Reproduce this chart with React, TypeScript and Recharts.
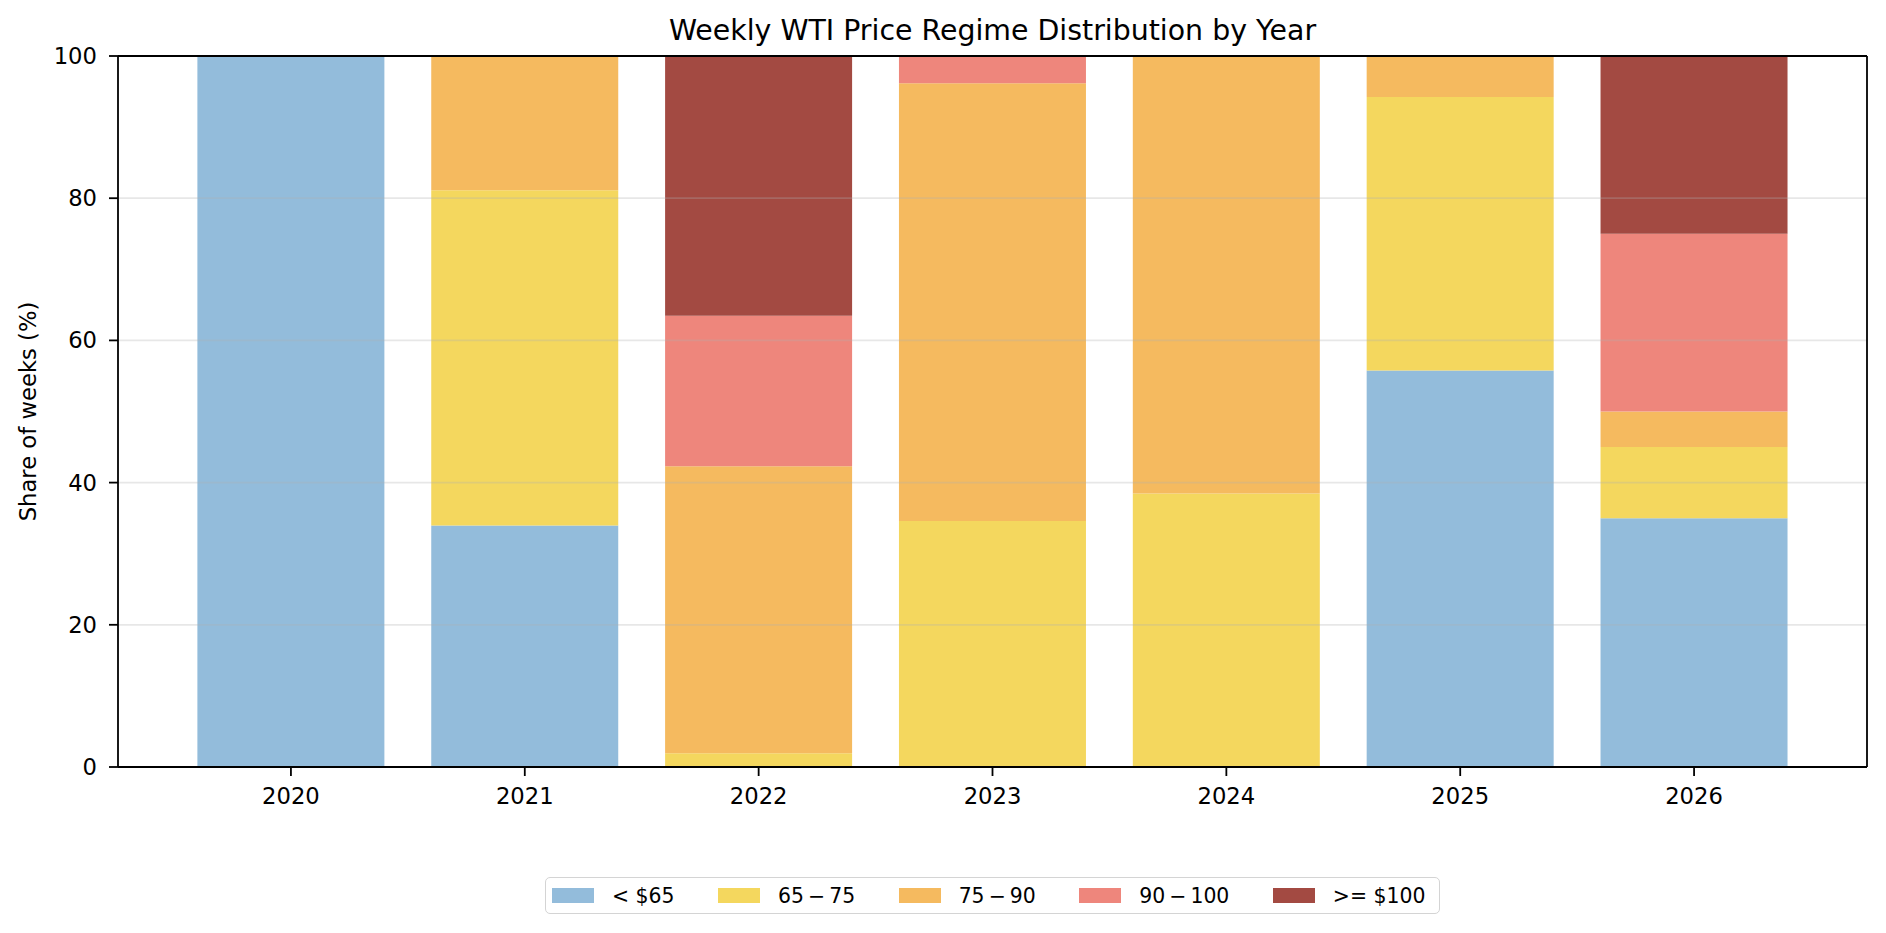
import React from 'react';
import { BarChart, Bar, XAxis, YAxis, ReferenceLine } from 'recharts';

const years = ['2020', '2021', '2022', '2023', '2024', '2025', '2026'];
const below65 = [100, 33.962, 0, 0, 0, 55.769, 35];
const r65to75 = [0, 47.17, 1.923, 34.615, 38.462, 38.462, 10];
const r75to90 = [0, 18.868, 40.385, 61.538, 61.538, 5.769, 5];
const r90to100 = [0, 0, 21.154, 3.846, 0, 0, 25];
const above100 = [0, 0, 36.538, 0, 0, 0, 25];
const yTicks = [0, 20, 40, 60, 80, 100];

const seriesKeys = ['below65', 'r65to75', 'r75to90', 'r90to100', 'above100'];
const seriesLabels = ['< $65', '65\u2009\u2212\u200975', '75\u2009\u2212\u200990', '90\u2009\u2212\u2009100', '>= $100'];
const seriesValues = [below65, r65to75, r75to90, r90to100, above100];
const seriesColors = ['#93BCDB', '#F4D75E', '#F5BA5F', '#EE867C', '#A34A42'];

const data = years.map((year, i) => {
  const row: Record<string, string | number> = { year };
  seriesKeys.forEach((k, s) => {
    row[k] = seriesValues[s][i];
  });
  return row;
});

const FONT = 'DejaVu Sans, Verdana, sans-serif';
const axisStroke = { stroke: '#000', strokeWidth: 1.8 };

export default function App() {
  return (
    <div style={{ position: 'absolute', left: 0, top: 0, width: 1886, height: 933, background: '#fff', fontFamily: FONT }}>
      <BarChart
        width={1886}
        height={933}
        data={data}
        margin={{ top: 55, right: 18, bottom: 136, left: 58 }}
        barCategoryGap="10%"
      >
        <XAxis
          dataKey="year"
          xAxisId="bottom"
          height={30}
          padding={{ left: 56, right: 56 }}
          axisLine={axisStroke}
          tickLine={axisStroke}
          tickSize={9}
          tickMargin={12}
          tick={{ fontSize: 22.7, fill: '#000', fontFamily: FONT }}
        />
        <XAxis
          dataKey="year"
          xAxisId="top"
          orientation="top"
          height={1}
          axisLine={axisStroke}
          tickLine={false}
          tick={false}
        />
        <YAxis
          yAxisId="left"
          width={60}
          domain={[0, 100]}
          ticks={yTicks}
          allowDataOverflow
          axisLine={axisStroke}
          tickLine={axisStroke}
          tickSize={9}
          tickMargin={12}
          tick={{ fontSize: 22.7, fill: '#000', fontFamily: FONT }}
          label={{
            content: (props: any) => {
              const vb = props.viewBox || { x: 58, y: 56, width: 60, height: 711 };
              const cx = vb.x - 22;
              const cy = vb.y + vb.height / 2;
              return (
                <text
                  x={cx}
                  y={cy}
                  transform={`rotate(-90, ${cx}, ${cy})`}
                  textAnchor="middle"
                  fontSize={22.7}
                  fontFamily={FONT}
                  fill="#000"
                >
                  Share of weeks (%)
                </text>
              );
            },
          }}
        />
        <YAxis
          yAxisId="right"
          orientation="right"
          width={1}
          domain={[0, 100]}
          axisLine={axisStroke}
          tickLine={false}
          tick={false}
        />
        {seriesKeys.map((k, s) => (
          <Bar
            key={k}
            dataKey={k}
            name={seriesLabels[s]}
            stackId="a"
            xAxisId="bottom"
            yAxisId="left"
            fill={seriesColors[s]}
            isAnimationActive={false}
          />
        ))}
        {yTicks.slice(1, -1).map((t) => (
          <ReferenceLine
            key={t}
            y={t}
            xAxisId="bottom"
            yAxisId="left"
            stroke="#b0b0b0"
            strokeOpacity={0.3}
            strokeWidth={1.8}
          />
        ))}
        <ReferenceLine y={100} xAxisId="bottom" yAxisId="left" stroke="#000" strokeWidth={1.8} />
      </BarChart>
      <svg width={1886} height={933} style={{ position: 'absolute', left: 0, top: 0, pointerEvents: 'none' }}>
        <text x={992.5} y={39.5} textAnchor="middle" fontSize={28.4} fontFamily={FONT} fill="#000">
          Weekly WTI Price Regime Distribution by Year
        </text>
      </svg>
      <div
        style={{
          position: 'absolute',
          left: 545,
          top: 877,
          height: 37,
          boxSizing: 'border-box',
          border: '1.8px solid #d4d4d4',
          borderRadius: 5,
          display: 'flex',
          alignItems: 'center',
          paddingLeft: 6,
          paddingRight: 14,
          background: '#fff',
          fontSize: 20.4,
          fontFamily: FONT,
          color: '#000',
        }}
      >
        {seriesKeys.map((k, s) => (
          <div key={k} style={{ display: 'flex', alignItems: 'center', marginLeft: s === 0 ? 0 : 43.5 }}>
            <div style={{ width: 42, height: 15, background: seriesColors[s], marginRight: 18 }} />
            <span style={{ whiteSpace: 'pre', lineHeight: '20px' }}>{seriesLabels[s]}</span>
          </div>
        ))}
      </div>
    </div>
  );
}
